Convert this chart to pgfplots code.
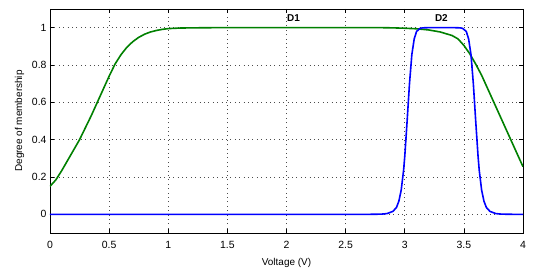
\documentclass[border=0pt]{standalone}
\usepackage{fontspec}
\setmainfont{Liberation Sans}
\usepackage{pgfplots}
\pgfplotsset{compat=1.18}
\definecolor{mgreen}{rgb}{0,0.5,0}
\begin{document}
\begin{tikzpicture}[x=1bp,y=1bp]
\begin{axis}[
  at={(0,0)}, anchor=south west, scale only axis,
  width=473bp, height=224bp,
  xmin=0, xmax=4, ymin=-0.1, ymax=1.1,
  xtick={0,0.5,1,1.5,2,2.5,3,3.5,4},
  ytick={0,0.2,0.4,0.6,0.8,1},
  grid=major,
  major grid style={dash pattern=on 0.8bp off 3.6bp, black!70, line width=0.6bp},
  tick align=inside, tick pos=both,
  major tick length=4bp,
  axis line style={line width=0.9bp},
  every tick/.style={black, line width=0.6bp},
  tick label style={font=\fontsize{10.5}{12}\selectfont},
  xticklabel style={yshift=-5bp},
  /pgf/number format/assume math mode=true,
  xlabel={Voltage (V)},
  ylabel={Degree of membership},
  label style={font=\fontsize{10}{12}\selectfont},
  xlabel style={yshift=-3bp},
  ylabel style={yshift=1bp},
]
\addplot[mgreen, line width=1.6bp] coordinates {
(0,0.15)(0.05,0.185)(0.1,0.235)(0.15,0.29)(0.2,0.345)(0.25,0.40)(0.3,0.465)(0.35,0.53)(0.4,0.60)(0.45,0.67)(0.5,0.74)(0.55,0.805)(0.6,0.855)(0.65,0.895)(0.7,0.925)(0.75,0.948)(0.8,0.965)(0.85,0.977)(0.9,0.985)(0.95,0.991)(1.0,0.995)(1.1,0.998)(1.2,0.999)(1.4,1)(2.8,1)(2.9,0.999)(3.0,0.997)(3.1,0.994)(3.2,0.988)(3.3,0.977)(3.4,0.958)(3.45,0.94)(3.5,0.905)(3.55,0.86)(3.6,0.805)(3.65,0.745)(3.7,0.675)(3.75,0.605)(3.8,0.535)(3.85,0.465)(3.9,0.395)(3.95,0.325)(4.0,0.255)
};
\addplot[blue, line width=1.6bp] coordinates {
(0,0)(2.7,0.0001)(2.8,0.001)(2.85,0.004)(2.9,0.016)(2.93,0.037)(2.95,0.07)(2.97,0.13)(2.99,0.235)(3.0,0.31)(3.02,0.5)(3.04,0.70)(3.06,0.856)(3.08,0.94)(3.1,0.98)(3.13,0.996)(3.15,0.999)(3.2,1)(3.42,1)(3.47,0.999)(3.49,0.996)(3.52,0.98)(3.54,0.94)(3.56,0.856)(3.58,0.70)(3.60,0.5)(3.62,0.31)(3.63,0.235)(3.65,0.13)(3.67,0.07)(3.69,0.037)(3.72,0.016)(3.77,0.004)(3.82,0.001)(3.92,0.0001)(4,0)
};
\node[font=\fontsize{10}{10}\selectfont\bfseries] at (axis cs:2.06,1.05) {D1};
\node[font=\fontsize{10}{10}\selectfont\bfseries] at (axis cs:3.31,1.05) {D2};
\end{axis}
\pgfresetboundingbox
\path[use as bounding box] (-50,-36) rectangle (484,233);
\end{tikzpicture}
\end{document}
